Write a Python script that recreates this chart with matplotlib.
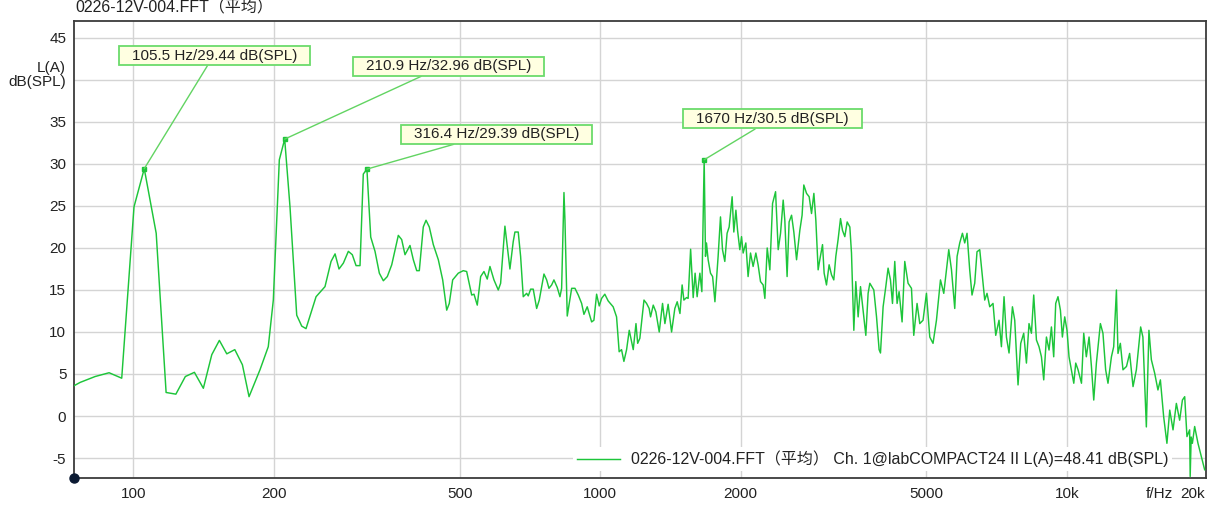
import matplotlib
matplotlib.use('Agg')
import matplotlib.pyplot as plt
import matplotlib.transforms as mtransforms
from matplotlib.ticker import NullLocator, FixedLocator, FixedFormatter

plt.rcParams['font.family'] = ['Liberation Sans', 'Noto Sans CJK SC', 'DejaVu Sans']

# ---------------- data ----------------
title = "0226-12V-004.FFT（平均）"
legend_label = "0226-12V-004.FFT（平均） Ch. 1@labCOMPACT24 II L(A)=48.41 dB(SPL)"

x_ticks = [100, 200, 500, 1000, 2000, 5000, 10000]
x_tick_labels = ["100", "200", "500", "1000", "2000", "5000", "10k"]
extra_x_labels = ["f/Hz", "20k"]
y_ticks = [-5, 0, 5, 10, 15, 20, 25, 30, 35, 40, 45]
y_tick_labels = ["-5", "0", "5", "10", "15", "20", "25", "30", "35", "", "45"]
y_unit_label = "L(A)\ndB(SPL)"

freq_hz = [
    74.6, 76.9, 82.8, 88.7, 94.4, 100.3, 105.5, 111.9, 117.5, 123.3, 129.2, 135.1,
    141.2, 147.2, 152.8, 158.5, 164.9, 171.2, 176.9, 186.7, 194.5, 199.4, 205.4, 210.9,
    216.5, 223.8, 229.4, 234.3, 246.2, 257.3, 265.1, 270.4, 275.7, 281.7,
    288.7, 294.4, 299.9, 305.8, 310.8, 316.4, 322.4, 329.3, 336.4, 343.1,
    349.9, 357.6, 369.4, 375.6, 381.8, 391.3, 397.8, 404.5, 409.7, 417.8,
    423.5, 430.4, 439.0, 450.0, 459.8, 469.0, 475.0, 483.0, 496.5, 508.9,
    517.5, 530.5, 536.6, 545.3, 554.5, 563.6, 572.8, 580.5,
    592.1, 604.8, 611.9, 625.0, 640.6, 651.1, 656.6, 667.4, 675.3, 684.1,
    695.7, 701.2, 709.6, 718.7, 730.9, 740.4, 757.7, 767.9, 776.6, 787.0,
    795.9, 809.0, 819.9, 826.7, 836.3, 840.4, 849.9, 868.7, 882.9, 897.4,
    912.5, 922.9, 938.0, 958.6, 969.4, 982.4, 995.2, 1007, 1023, 1040,
    1066, 1084, 1098, 1111, 1124, 1139, 1154, 1162, 1177, 1193,
    1203, 1216, 1241, 1257, 1273, 1282, 1299, 1316, 1338, 1360,
    1376, 1398, 1422, 1445, 1462, 1482, 1498, 1511, 1531, 1543,
    1562, 1582, 1597, 1613, 1635, 1651,
    1670, 1681, 1689, 1703, 1723, 1741, 1761, 1789, 1810, 1828,
    1849, 1870, 1889, 1917, 1933, 1953, 1969, 1991, 2008, 2024,
    2051, 2074, 2099, 2126, 2155, 2179, 2205, 2234, 2253, 2279,
    2309, 2340, 2375, 2406, 2434, 2466, 2486, 2514, 2539, 2570,
    2599, 2634, 2677, 2707, 2730, 2767, 2803, 2836, 2869, 2897,
    2930, 2954, 2994, 3018, 3053, 3093, 3130, 3165, 3197, 3233,
    3272, 3304, 3342, 3381, 3426, 3454, 3494, 3528, 3569, 3611,
    3658, 3707, 3749, 3781,
    3856, 3908, 3958, 3985, 4037, 4091, 4137, 4186, 4228, 4276,
    4325, 4368, 4433, 4492, 4566, 4643, 4696, 4773, 4837, 4916,
    4999, 5082, 5164, 5252, 5357, 5445, 5518, 5581, 5656, 5748,
    5815, 5891, 5970, 6038, 6107, 6188, 6259, 6343, 6415, 6502,
    6588, 6664, 6740, 6831, 6942, 7036, 7151, 7236, 7330, 7417,
    7513, 7640, 7727, 7854, 7959, 8077, 8186, 8291, 8391, 8486,
    8600, 8710, 8815, 8915, 9035, 9152, 9260, 9365, 9458, 9565,
    9680,
    9775, 9888, 10000, 10100, 10220, 10340, 10440, 10560, 10740, 10860,
    11000, 11150, 11280, 11410, 11560, 11790, 11940, 12100, 12240, 12450,
    12590, 12760, 12860, 13010, 13180, 13410, 13620, 13850, 14080, 14240,
    14380, 14540, 14790, 14980, 15160, 15410, 15660, 15850, 16110, 16370,
    16600, 16870, 17150, 17430, 17670, 17870, 18070, 18310, 18360, 18450,
    18560, 18770, 19080, 19400, 19720,
]

level_db = [
    3.6, 4.0, 4.7, 5.15, 4.5, 24.9, 29.44, 21.75, 2.8, 2.6, 4.7, 5.2,
    3.3, 7.3, 9.0, 7.4, 7.9, 6.1, 2.3, 5.5, 8.25, 13.8, 30.5, 32.96,
    24.9, 12.0, 10.7, 10.4, 14.2, 15.4, 18.4, 19.3, 17.5, 18.2,
    19.6, 19.2, 17.9, 17.9, 28.8, 29.39, 21.3, 19.6, 17.0, 16.1,
    16.6, 18.0, 21.5, 21.0, 19.2, 20.3, 18.6, 17.3, 17.3, 22.5,
    23.3, 22.5, 20.4, 18.6, 16.2, 12.6, 13.4, 16.2, 17.0, 17.3,
    17.2, 14.4, 14.5, 13.2, 16.6, 17.2, 16.3, 17.8,
    16.2, 15.0, 15.8, 22.6, 17.5, 20.75, 21.9, 21.9, 19.0, 14.2,
    14.6, 14.3, 15.1, 15.1, 12.8, 13.8, 16.9, 16.2, 15.2, 15.6,
    16.2, 15.3, 14.2, 15.2, 26.6, 23.3, 11.9, 15.2, 15.2, 14.4,
    13.4, 12.1, 13.0, 11.2, 11.4, 14.5, 13.1, 14.0, 14.5, 13.7,
    13.0, 11.8, 7.65, 7.9, 6.5, 7.9, 10.2, 9.4, 7.9, 11.0,
    8.65, 9.25, 13.8, 13.4, 12.8, 11.8, 13.2, 12.4, 10.0, 13.4,
    11.0, 13.3, 10.0, 12.8, 13.6, 12.2, 15.6, 13.8, 14.1, 14.0,
    19.85, 14.1, 17.0, 14.2, 17.0, 14.8,
    30.5, 19.0, 20.6, 18.6, 17.0, 16.6, 13.6, 19.0, 23.7, 19.8,
    18.4, 21.75, 22.5, 26.1, 21.9, 24.5, 22.1, 19.8, 21.35, 19.4,
    20.6, 16.6, 19.4, 17.8, 19.4, 18.0, 16.0, 15.6, 14.0, 20.0,
    17.4, 25.3, 26.7, 19.8, 21.75, 25.7, 23.3, 16.6, 23.1, 23.9,
    21.9, 18.6, 22.1, 23.9, 27.5, 26.5, 26.1, 24.1, 26.5, 23.3,
    17.4, 18.6, 20.4, 17.0, 15.6, 18.0, 16.8, 16.2, 19.0, 21.0,
    23.5, 22.1, 21.35, 23.1, 22.5, 19.4, 10.2, 16.0, 11.8, 15.4,
    12.6, 9.6, 14.6, 15.8,
    15.0, 11.8, 7.9, 7.5, 13.0, 15.4, 17.6, 16.2, 13.4, 18.4,
    13.4, 14.8, 11.2, 18.4, 15.8, 15.2, 9.6, 13.4, 11.0, 11.4,
    14.6, 9.4, 8.65, 11.4, 16.2, 14.6, 17.4, 19.8, 17.4, 12.8,
    19.0, 20.6, 21.75, 20.6, 21.75, 17.4, 14.4, 15.8, 19.55, 19.8,
    16.6, 13.8, 14.6, 13.0, 13.4, 9.6, 11.4, 8.25, 14.2, 9.4,
    7.5, 13.0, 11.4, 3.7, 8.65, 9.85, 6.3, 11.0, 9.85, 14.4,
    9.05, 8.25, 7.05, 4.3, 9.4, 7.85, 10.6, 7.05, 13.4, 14.2,
    12.6,
    9.4, 11.8, 10.2, 7.05, 5.5, 3.9, 6.3, 5.5, 3.9, 9.85,
    7.05, 9.4, 5.9, 1.9, 6.3, 11.0, 9.85, 5.5, 3.9, 7.05,
    8.25, 15.0, 7.45, 8.65, 5.5, 5.9, 7.45, 3.5, 5.5, 8.25,
    10.6, 9.4, -1.3, 10.2, 6.7, 5.1, 3.1, 4.3, -0.1, -3.25,
    0.7, -1.65, 1.5, -0.5, 1.9, 2.3, -2.45, -1.65, -7.2, -2.5,
    -3.25, -1.25, -3.25, -4.85, -6.4,
]

ann_freq = [105.5, 210.9, 316.4, 1670]
ann_db = [29.44, 32.96, 29.39, 30.5]
ann_text = ["105.5 Hz/29.44 dB(SPL)", "210.9 Hz/32.96 dB(SPL)",
            "316.4 Hz/29.39 dB(SPL)", "1670 Hz/30.5 dB(SPL)"]

# ---------------- layout / style ----------------
W, H = 1209, 512
L, R, T, B = 74, 1206, 21, 478
ann_offsets = [(70, 113), (164, 73), (129.5, 35), (68.5, 41)]
ann_relx = [0.47, 0.376, 0.31, 0.42]
FS = 11
FS_BIG = 11.5

line_color = '#1DC53A'
grid_color = '#D4D4D4'
spine_color = '#3C3C3C'
text_color = '#222222'

fig = plt.figure(figsize=(W / 100, H / 100), dpi=100)
ax = fig.add_axes([L / W, (H - B) / H, (R - L) / W, (B - T) / H])

ax.plot(freq_hz, level_db, color=line_color, lw=1.05, label=legend_label, zorder=3)

ax.set_xscale('log')
ax.set_xlim(74.6, 19850)
ax.set_ylim(-7.38, 47.02)
ax.xaxis.set_major_locator(FixedLocator(x_ticks))
ax.xaxis.set_major_formatter(FixedFormatter(x_tick_labels))
ax.xaxis.set_minor_locator(NullLocator())
ax.yaxis.set_major_locator(FixedLocator(y_ticks))
ax.yaxis.set_major_formatter(FixedFormatter(y_tick_labels))
ax.yaxis.set_minor_locator(NullLocator())
ax.grid(True, which='major', color=grid_color, lw=1.0)
ax.set_axisbelow(True)
ax.tick_params(axis='both', length=0, labelsize=FS, colors=text_color)
ax.tick_params(axis='x', pad=6.5)
ax.tick_params(axis='y', pad=5.5)
for s in ax.spines.values():
    s.set_color(spine_color)
    s.set_linewidth(1.3)

# extra axis texts
for lab, fx in zip(extra_x_labels, [(1159 - L) / (R - L), (1193 - L) / (R - L)]):
    ax.annotate(lab, xy=(fx, 0), xycoords='axes fraction', xytext=(0, -6.5),
                textcoords='offset points', ha='center', va='top',
                fontsize=FS, color=text_color, annotation_clip=False)

ytrans = mtransforms.blended_transform_factory(ax.transAxes, ax.transData)
ax.text(-8 / (R - L), 40.6, y_unit_label, transform=ytrans, ha='right', va='center',
        multialignment='right', fontsize=FS, color=text_color, linespacing=1.05)

fig.text((L + 1) / W, 1 - 8 / H, title, ha='left', va='center', fontsize=FS_BIG,
         color=text_color)

# corner dot
ax.plot([0], [0], 'o', transform=ax.transAxes, clip_on=False, ms=6.5,
        color='#0B1A33', zorder=7)

# annotations
for f, d, t, off, rx in zip(ann_freq, ann_db, ann_text, ann_offsets, ann_relx):
    ax.plot([f], [d], 's', ms=3, color=line_color, zorder=4)
    ax.annotate(t, xy=(f, d), xytext=off, textcoords='offset pixels',
                ha='center', va='center', fontsize=FS, color=text_color,
                bbox=dict(boxstyle='square,pad=0.85', mutation_aspect=0.2,
                          fc='#FFFFE1', ec='#6BDB6B', lw=1.3),
                arrowprops=dict(arrowstyle='-', color='#62D462', lw=1.0,
                                relpos=(rx, 0), shrinkA=0, shrinkB=0),
                zorder=6)

leg = ax.legend(loc='center right', bbox_to_anchor=((1172 - L) / (R - L), (B - 459) / (B - T)),
                frameon=True, fancybox=False, edgecolor='none', facecolor='white',
                framealpha=1, handlelength=2.7, handletextpad=0.65, borderpad=0.25,
                borderaxespad=0, fontsize=FS_BIG)
for txt in leg.get_texts():
    txt.set_color(text_color)

fig.savefig('out.png', dpi=100)
